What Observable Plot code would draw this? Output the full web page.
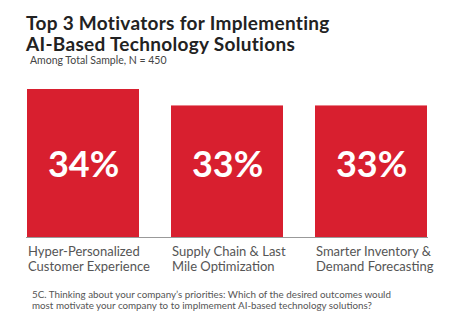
<!DOCTYPE html>
<html><head><meta charset="utf-8">
<script src="https://cdn.jsdelivr.net/npm/d3@7"></script>
<script src="https://cdn.jsdelivr.net/npm/@observablehq/plot@0.6"></script>
<style>
body{margin:0;background:#fff;width:463px;height:325px;position:relative;overflow:hidden;font-family:Lato,sans-serif;}
.t{position:absolute;left:26px;font-weight:700;font-size:19px;line-height:19px;height:19px;color:#222;letter-spacing:0.3px;white-space:nowrap;}
#sub{position:absolute;left:30px;top:54px;font-size:10.5px;color:#444;}
#chart{position:absolute;left:0;top:80px;}
.c{position:absolute;left:32px;font-size:9.8px;line-height:10px;height:10px;color:#555;white-space:nowrap;}
</style></head>
<body>
<div class="t" style="top:13px">Top 3 Motivators for Implementing</div>
<div class="t" style="top:34px">AI-Based Technology Solutions</div>
<div id="sub">Among Total Sample, N = 450</div>
<div id="chart"></div>
<div class="c" style="top:289px">5C. Thinking about your company’s priorities: Which of the desired outcomes would</div>
<div class="c" style="top:300px">most motivate your company to to implmement AI-based technology solutions?</div>
<script>
const categories = ["Hyper-Personalized\nCustomer Experience", "Supply Chain & Last\nMile Optimization", "Smarter Inventory &\nDemand Forecasting"];
const values = [34, 33, 33];
const valueLabels = ["34%", "33%", "33%"];

const data = categories.map((c, i) => ({cat: c, value: values[i], label: valueLabels[i]}));
const red = "#d81f2f";
const bw = 113;

const chart = Plot.plot({
  width: 463,
  height: 200,
  marginTop: 9,
  marginBottom: 43,
  marginLeft: 26,
  marginRight: 35,
  x: {domain: categories, paddingInner: 0.22, paddingOuter: 0, axis: null},
  y: {domain: [25, 34], axis: null},
  marks: [
    Plot.ruleY([25], {stroke: "#999", strokeWidth: 1}),
    Plot.barY(data, {x: "cat", y1: 25, y2: "value", fill: red}),
    Plot.text(data, {x: "cat", text: "label", frameAnchor: "middle", dy: 2, fill: "#fff", fontSize: 36, fontWeight: 700, fontFamily: "Lato, sans-serif"}),
    Plot.text(data, {x: "cat", y: 25, text: "cat", textAnchor: "start", lineAnchor: "top", dx: -bw/2 + 1, dy: 7, fill: "#555", fontSize: 13, lineHeight: 1.2, fontFamily: "Lato, sans-serif"})
  ]
});
document.getElementById("chart").appendChild(chart);
</script>
</body></html>
